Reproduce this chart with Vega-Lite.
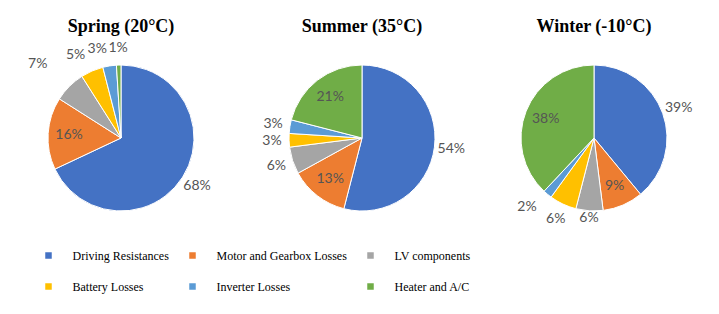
{
  "$schema": "https://vega.github.io/schema/vega-lite/v6.json",
  "background": "white",
  "padding": {"left": 28, "top": 18, "right": 5, "bottom": 5},
  "bounds": "flush",
  "data": {"values": [
    {"season": "Spring", "category": "Driving Resistances", "idx": 1, "value": 68, "label": "68%", "placement": "out"},
    {"season": "Spring", "category": "Motor and Gearbox Losses", "idx": 2, "value": 16, "label": "16%", "placement": "in"},
    {"season": "Spring", "category": "LV components", "idx": 3, "value": 7, "label": "7%", "placement": "far"},
    {"season": "Spring", "category": "Battery Losses", "idx": 4, "value": 5, "label": "5%", "placement": "side"},
    {"season": "Spring", "category": "Inverter Losses", "idx": 5, "value": 3, "label": "3%", "placement": "side"},
    {"season": "Spring", "category": "Heater and A/C", "idx": 6, "value": 1, "label": "1%", "placement": "out"},
    {"season": "Summer", "category": "Driving Resistances", "idx": 1, "value": 54, "label": "54%", "placement": "out"},
    {"season": "Summer", "category": "Motor and Gearbox Losses", "idx": 2, "value": 13, "label": "13%", "placement": "in"},
    {"season": "Summer", "category": "LV components", "idx": 3, "value": 6, "label": "6%", "placement": "out"},
    {"season": "Summer", "category": "Battery Losses", "idx": 4, "value": 3, "label": "3%", "placement": "out"},
    {"season": "Summer", "category": "Inverter Losses", "idx": 5, "value": 3, "label": "3%", "placement": "out"},
    {"season": "Summer", "category": "Heater and A/C", "idx": 6, "value": 21, "label": "21%", "placement": "in"},
    {"season": "Winter", "category": "Driving Resistances", "idx": 1, "value": 39, "label": "39%", "placement": "out"},
    {"season": "Winter", "category": "Motor and Gearbox Losses", "idx": 2, "value": 9, "label": "9%", "placement": "in"},
    {"season": "Winter", "category": "LV components", "idx": 3, "value": 6, "label": "6%", "placement": "near"},
    {"season": "Winter", "category": "Battery Losses", "idx": 4, "value": 6, "label": "6%", "placement": "out"},
    {"season": "Winter", "category": "Inverter Losses", "idx": 5, "value": 2, "label": "2%", "placement": "side"},
    {"season": "Winter", "category": "Heater and A/C", "idx": 6, "value": 38, "label": "38%", "placement": "in"}
  ]},
  "spacing": 61,
  "hconcat": [
    {
      "title": "Spring (20°C)",
      "width": 180, "height": 200,
      "transform": [{"filter": "datum.season === 'Spring'"}],
      "encoding": {
        "theta": {"field": "value", "type": "quantitative", "stack": true},
        "order": {"field": "idx", "type": "quantitative"}
      },
      "layer": [
        {"mark": {"type": "arc", "outerRadius": 73, "stroke": "white", "strokeWidth": 1},
         "encoding": {"color": {"field": "category", "type": "nominal", "scale": {"domain": ["Driving Resistances", "Motor and Gearbox Losses", "LV components", "Battery Losses", "Inverter Losses", "Heater and A/C"]}}}},
        {"mark": {"type": "text", "font": "Lato", "fontSize": 14, "color": "#555555",
                  "radius": {"expr": "datum.placement === 'in' ? 52 : datum.placement === 'near' ? 80 : datum.placement === 'far' ? 104 : 90"},
                  "align": {"expr": "datum.placement === 'side' || datum.placement === 'far' ? 'right' : 'center'"}},
         "encoding": {"text": {"field": "label"}}}
      ]
    },
    {
      "title": "Summer (35°C)",
      "width": 180, "height": 200,
      "transform": [{"filter": "datum.season === 'Summer'"}],
      "encoding": {
        "theta": {"field": "value", "type": "quantitative", "stack": true},
        "order": {"field": "idx", "type": "quantitative"}
      },
      "layer": [
        {"mark": {"type": "arc", "outerRadius": 73, "stroke": "white", "strokeWidth": 1},
         "encoding": {"color": {"field": "category", "type": "nominal"}}},
        {"mark": {"type": "text", "font": "Lato", "fontSize": 14, "color": "#555555",
                  "radius": {"expr": "datum.placement === 'in' ? 52 : datum.placement === 'near' ? 80 : datum.placement === 'far' ? 104 : 90"},
                  "align": {"expr": "datum.placement === 'side' || datum.placement === 'far' ? 'right' : 'center'"}},
         "encoding": {"text": {"field": "label"}}}
      ]
    },
    {
      "title": "Winter (-10°C)",
      "width": 162, "height": 200,
      "transform": [{"filter": "datum.season === 'Winter'"}],
      "encoding": {
        "theta": {"field": "value", "type": "quantitative", "stack": true},
        "order": {"field": "idx", "type": "quantitative"}
      },
      "layer": [
        {"mark": {"type": "arc", "outerRadius": 73, "stroke": "white", "strokeWidth": 1},
         "encoding": {"color": {"field": "category", "type": "nominal"}}},
        {"mark": {"type": "text", "font": "Lato", "fontSize": 14, "color": "#555555",
                  "radius": {"expr": "datum.placement === 'in' ? 52 : datum.placement === 'near' ? 80 : datum.placement === 'far' ? 104 : 90"},
                  "align": {"expr": "datum.placement === 'side' || datum.placement === 'far' ? 'right' : 'center'"}},
         "encoding": {"text": {"field": "label"}}}
      ]
    }
  ],
  "resolve": {"scale": {"color": "shared"}},
  "config": {
    "view": {"stroke": null},
    "title": {"font": "Liberation Serif", "fontSize": 18, "fontWeight": "bold", "color": "black", "anchor": "middle", "offset": 2},
    "range": {"category": ["#4472C4", "#ED7D31", "#A5A5A5", "#FFC000", "#5B9BD5", "#70AD47"]},
    "legend": {
      "orient": "bottom", "columns": 3, "title": null, "symbolType": "square", "symbolSize": 64,
      "labelFont": "Liberation Serif", "labelFontSize": 12, "labelColor": "black",
      "labelOffset": 18, "columnPadding": 16, "rowPadding": 17, "offset": 0, "padding": 11.5, "labelLimit": 300
    }
  }
}
